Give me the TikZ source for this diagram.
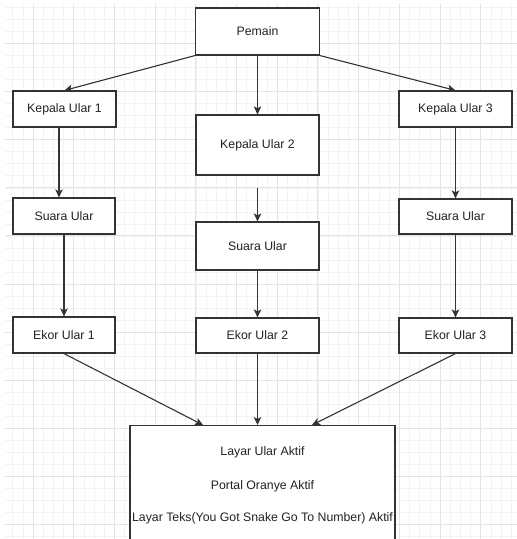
\documentclass[tikz,border=0pt]{standalone}
\usepackage{fontspec}
\setmainfont{Liberation Sans}
\usetikzlibrary{arrows.meta}
\definecolor{gridminor}{HTML}{F3F3F3}
\definecolor{gridmajor}{HTML}{E4E4E4}
\definecolor{edgecol}{HTML}{333333}
\definecolor{txtcol}{HTML}{222222}
\begin{document}
\begin{tikzpicture}[x=1pt,y=-1pt,
  box/.style={draw=edgecol,line width=1.2pt,fill=white,inner sep=0pt,
    font=\fontsize{12.3}{14}\selectfont,text=txtcol},
  link/.style={draw=edgecol,line width=1.1pt,
    -{Stealth[length=8pt,width=7.5pt,inset=2pt]}}]
% canvas
\useasboundingbox (0,0) rectangle (517,539);
\clip (0,0) rectangle (517,539);
\fill[white] (0,0) rectangle (517,539);
% background grid: minor lines, then major lines
\begin{scope}[line width=0.6pt]
  \foreach \i in {-2,...,47} {
    \draw[gridminor] ({33+10.175*\i},4) -- ({33+10.175*\i},539);
  }
  \foreach \j in {-3,...,41} {
    \draw[gridminor] (5,{43.5+12.025*\j}) -- (517,{43.5+12.025*\j});
  }
  \foreach \i in {0,...,11} {
    \draw[gridmajor,line width=0.9pt] ({33+40.7*\i},4) -- ({33+40.7*\i},539);
  }
  \foreach \j in {0,...,10} {
    \draw[gridmajor,line width=0.9pt] (5,{43.5+48.1*\j}) -- (517,{43.5+48.1*\j});
  }
\end{scope}
% nodes
\node[box,minimum width=124pt,minimum height=47pt] (pemain) at (257.5,31.5) {Pemain};
\node[box,minimum width=103pt,minimum height=36pt] (k1) at (64.5,109) {Kepala Ular 1};
\node[box,minimum width=123pt,minimum height=60pt] (k2) at (257.5,145) {Kepala Ular 2};
\node[box,minimum width=113pt,minimum height=36pt] (k3) at (455.5,109) {Kepala Ular 3};
\node[box,minimum width=102pt,minimum height=36pt] (s1) at (64,216) {Suara Ular};
\node[box,minimum width=123pt,minimum height=48pt] (s2) at (257.5,246) {Suara Ular};
\node[box,minimum width=113pt,minimum height=35pt] (s3) at (455.5,216.5) {Suara Ular};
\node[box,minimum width=102pt,minimum height=36pt] (e1) at (64,335) {Ekor Ular 1};
\node[box,minimum width=123pt,minimum height=35pt] (e2) at (257.5,335.5) {Ekor Ular 2};
\node[box,minimum width=113pt,minimum height=35pt] (e3) at (455.5,335.5) {Ekor Ular 3};
\node[box,minimum width=265pt,minimum height=140pt,anchor=north] (out) at (262.5,425) {};
\node[font=\fontsize{12.3}{14}\selectfont,text=txtcol,inner sep=0pt] (t1) at (262.5,452) {Layar Ular Aktif};
\node[font=\fontsize{12.3}{14}\selectfont,text=txtcol,inner sep=0pt] (t2) at (262.5,486) {Portal Oranye Aktif};
\node[font=\fontsize{12.3}{14}\selectfont,text=txtcol,inner sep=0pt] (t3) at (262.5,518) {Layar Teks(You Got Snake Go To Number) Aktif};
% connectors
\draw[link] (pemain.south west) -- (k1.north);
\draw[link] (pemain.south) -- (k2.north);
\draw[link] (pemain.south east) -- (k3.north);
\draw[link] ([xshift=-5.5pt]k1.south) -- ([xshift=-5pt]s1.north);
\draw[link,shorten <=12pt] (k2.south) -- (s2.north);
\draw[link] (k3.south) -- (s3.north);
\draw[link] (s1.south) -- (e1.north);
\draw[link] (s2.south) -- (e2.north);
\draw[link] (s3.south) -- (e3.north);
\draw[link] (e1.south) -- ([xshift=-59.5pt]out.north);
\draw[link] (e2.south) -- ([xshift=-5pt]out.north);
\draw[link] (e3.south) -- ([xshift=49.5pt]out.north);
\end{tikzpicture}
\end{document}
